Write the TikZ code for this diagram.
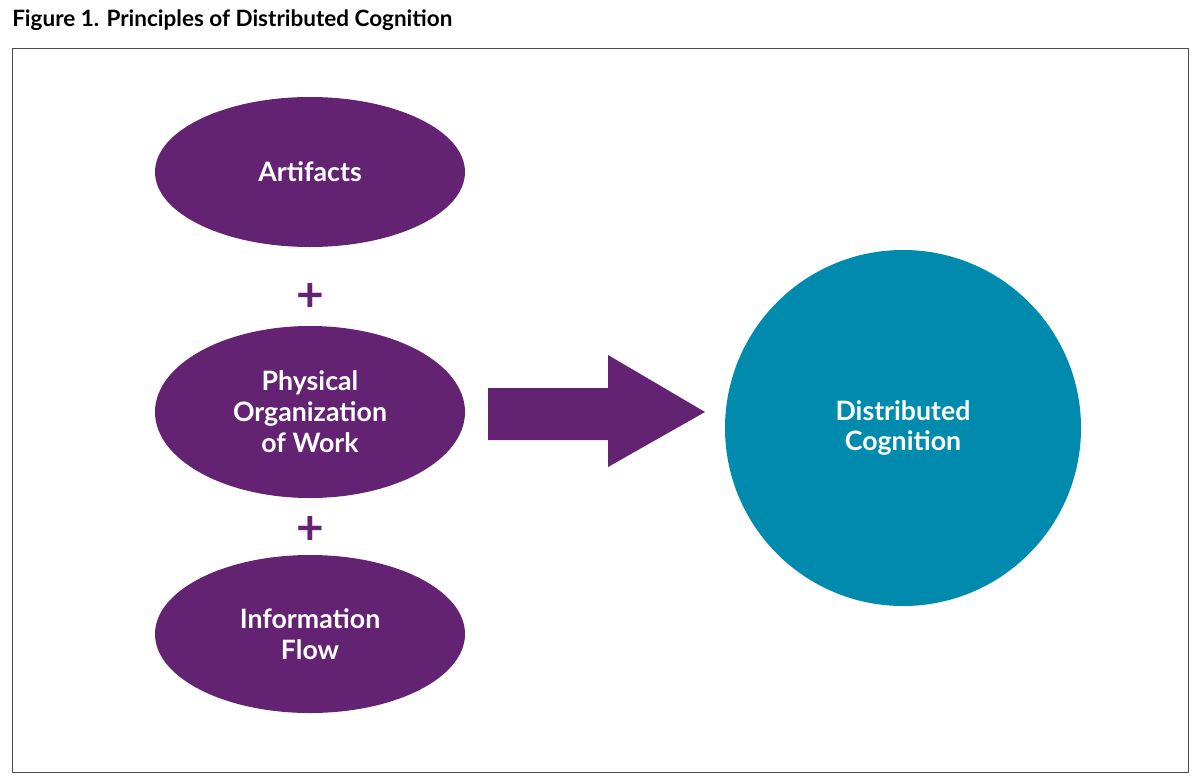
\documentclass[tikz,border=0pt]{standalone}
\usepackage{fontspec}
\setmainfont{Lato}
\usetikzlibrary{positioning,shapes.geometric}
\definecolor{dcpurple}{HTML}{632272}
\definecolor{dcteal}{HTML}{008BAE}
\begin{document}
\begin{tikzpicture}[x=0.025cm,y=-0.025cm,
        part/.style={ellipse, fill=dcpurple, text=white, font=\bfseries\fontsize{19}{22}\selectfont,
            align=center, inner sep=0pt, minimum width=310*0.025cm},
        plus/.style={text=dcpurple, font=\bfseries\fontsize{34}{34}\selectfont, inner sep=0pt}
    ]
        \useasboundingbox (0,0) rectangle (1200,782);
        % title and frame
        \node[anchor=west, font=\bfseries\fontsize{16}{18}\selectfont, inner sep=0pt] (title) at (12,20) {Figure 1. Principles of Distributed Cognition};
        \draw[line width=0.6pt, black!70] (12,48) rectangle (1188,772);

        % the three parts
        \node[part, minimum height=150*0.025cm] (art) at (310,172) {Artifacts};
        \node[part, minimum height=172*0.025cm] (phys) at (310,412) {Physical\\Organization\\of Work};
        \node[part, minimum height=158*0.025cm] (info) at (310,634) {Information\\Flow};
        \node[plus] (p1) at (310,297) {+};
        \node[plus] (p2) at (310,530) {+};

        % result
        \node[circle, fill=dcteal, text=white, minimum size=356*0.025cm, align=center,
            font=\bfseries\fontsize{19}{22}\selectfont] (dc) at (903,428) {Distributed\\Cognition};

        % block arrow
        \fill[dcpurple] (488,388) -- (608,388) -- (608,355) -- (705,412) -- (608,467) -- (608,440) -- (488,440) -- cycle;
    \end{tikzpicture}
\end{document}
